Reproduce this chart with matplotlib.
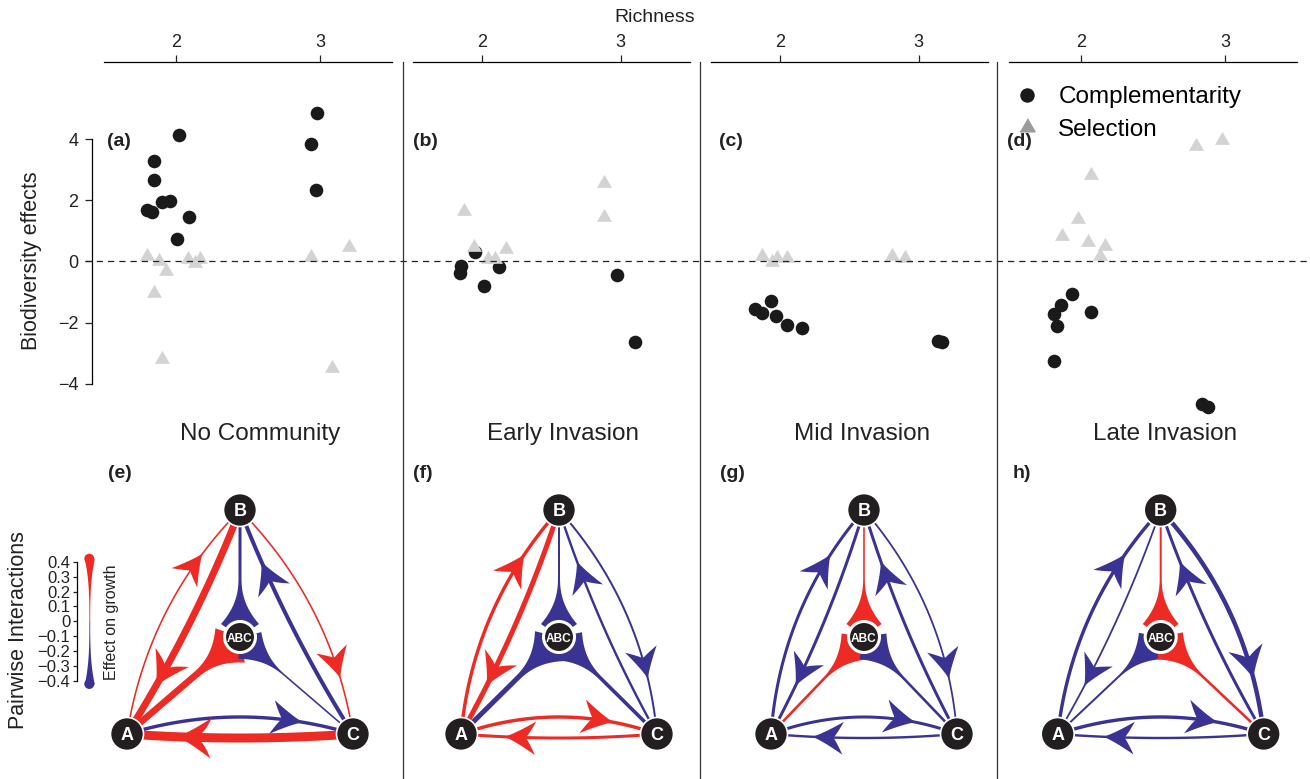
import numpy as np
import matplotlib.pyplot as plt
from matplotlib.lines import Line2D
from matplotlib.patches import Polygon, Circle, Ellipse
import matplotlib.transforms as mtransforms

plt.rcParams['font.family'] = ['Liberation Sans', 'DejaVu Sans']

# ---------------- data ----------------
stages = ["No Community", "Early Invasion", "Mid Invasion", "Late Invasion"]
top_tags = ["(a)", "(b)", "(c)", "(d)"]
net_tags = ["(e)", "(f)", "(g)", "h)"]

# complementarity effect per plot (richness jittered around 2 and 3)
comp_x = [
    [1.80, 1.83, 1.85, 1.85, 1.90, 1.96, 2.02, 2.01, 2.09, 2.98, 2.94, 2.97],
    [1.95, 1.85, 1.84, 2.01, 2.12, 2.97, 3.10],
    [1.93, 1.82, 1.87, 1.97, 2.05, 2.16, 3.14, 3.17],
    [1.94, 1.86, 1.81, 1.83, 2.07, 1.81, 2.84, 2.88],
]
comp_y = [
    [1.68, 1.61, 3.28, 2.66, 1.94, 1.99, 4.14, 0.75, 1.45, 4.84, 3.84, 2.35],
    [0.30, -0.14, -0.37, -0.79, -0.17, -0.44, -2.64],
    [-1.28, -1.55, -1.69, -1.78, -2.08, -2.18, -2.59, -2.64],
    [-1.07, -1.43, -1.72, -2.11, -1.65, -3.27, -4.67, -4.77],
]
# selection effect per plot
sel_x = [
    [1.80, 1.88, 1.93, 1.85, 1.90, 2.08, 2.13, 2.17, 2.94, 3.20, 3.08],
    [1.87, 1.94, 2.04, 2.09, 2.17, 2.88, 2.88],
    [1.87, 1.94, 1.98, 2.05, 2.81, 2.90],
    [2.80, 2.98, 2.07, 1.98, 1.87, 2.05, 2.17, 2.13],
]
sel_y = [
    [0.18, 0.00, -0.30, -1.04, -3.18, 0.07, -0.05, 0.09, 0.16, 0.48, -3.47],
    [1.65, 0.48, 0.07, 0.07, 0.40, 2.58, 1.44],
    [0.18, -0.02, 0.11, 0.12, 0.18, 0.10],
    [3.78, 3.97, 2.83, 1.39, 0.83, 0.63, 0.52, 0.18],
]

# pairwise interaction coefficients (source > target), one row per stage
pair_links = [("A", "B"), ("B", "A"), ("B", "C"), ("C", "B"), ("A", "C"), ("C", "A")]
pair_effects = [
    [0.03, 0.30, 0.03, -0.15, -0.12, 0.40],
    [0.12, 0.20, -0.05, -0.07, 0.12, 0.10],
    [-0.10, -0.10, -0.04, -0.10, -0.10, -0.07],
    [-0.12, -0.04, -0.17, -0.10, -0.12, -0.07],
]
# effect of each species on the three-species mix
abc_sources = ["B", "A", "C"]
abc_effects = [
    [-0.10, 0.28, -0.03],
    [-0.05, -0.20, -0.13],
    [0.03, 0.08, -0.08],
    [0.05, -0.05, 0.08],
]
cbar_ticks = [-0.4, -0.3, -0.2, -0.1, 0.0, 0.1, 0.2, 0.3, 0.4]

# ---------------- layout ----------------
W, H = 1310, 779
RED = '#ed2a24'
BLUE = '#3a3393'
NODE = '#231f20'

fig = plt.figure(figsize=(W / 100, H / 100), dpi=100)


def px_axes(x0, y0, x1, y1):
    return fig.add_axes([x0 / W, 1 - y1 / H, (x1 - x0) / W, (y1 - y0) / H])


top_left = [104, 413, 711, 1009]
top_right = [392, 690, 988, 1297]
tag_x = [107, 413, 719, 1007]
title_x = [260, 563, 862, 1165]
tri = [(-1, -0.577), (1, -0.577), (0, 1.155)]

axes_top = []
for i in range(4):
    ax = px_axes(top_left[i], 62, top_right[i], 460)
    ax.set_xlim(1.5, 3.5)
    ax.set_ylim(-6.49, 6.52)
    ax.patch.set_alpha(0)
    for s in ['right', 'bottom', 'left']:
        ax.spines[s].set_visible(False)
    ax.spines['top'].set_linewidth(0.9)
    ax.xaxis.tick_top()
    ax.set_xticks([2, 3])
    ax.tick_params(axis='x', direction='out', length=5, width=0.9, pad=3,
                   labelsize=13, colors='#222222')
    ax.set_yticks([])
    ax.scatter(comp_x[i], comp_y[i], s=96, marker='o', color='#1a1a1a',
               linewidths=0, zorder=3)
    ax.scatter(sel_x[i], sel_y[i], s=156, marker=tri, color='#d3d3d3',
               linewidths=0, zorder=4)
    fig.text(tag_x[i] / W, 1 - 141 / H, top_tags[i], fontsize=14,
             fontweight='bold', ha='left', va='center', color='#222222')
    fig.text(title_x[i] / W, 1 - 434 / H, stages[i], fontsize=17.5,
             ha='center', va='center', color='#222222')
    axes_top.append(ax)

ax0 = axes_top[0]
ax0.spines['left'].set_visible(True)
ax0.spines['left'].set_position(('outward', 8.6))
ax0.spines['left'].set_bounds(-4, 4)
ax0.spines['left'].set_linewidth(0.9)
ax0.set_yticks([-4, -2, 0, 2, 4])
ax0.tick_params(axis='y', direction='out', length=5, width=0.9, pad=5,
                labelsize=13, colors='#222222')

fig.text(655 / W, 1 - 18 / H, 'Richness', fontsize=14, ha='center', va='center',
         color='#222222')
fig.text(32 / W, 1 - 261 / H, 'Biodiversity effects', fontsize=15.5,
         rotation=90, ha='center', va='center', color='#222222')

# zero line running across all four panels
zero_tr = mtransforms.blended_transform_factory(fig.transFigure, ax0.transData)
fig.add_artist(Line2D([85 / W, 1.0], [0, 0], transform=zero_tr, color='#222222',
                      lw=0.9, linestyle=(0, (5, 4))))

# panel separators
for xs in [403, 700, 997]:
    fig.add_artist(Line2D([xs / W, xs / W], [0, 1 - 62 / H], transform=fig.transFigure,
                          color='#333333', lw=0.9))

handles = [Line2D([], [], ls='none', marker='o', color='#1a1a1a', markersize=9.4),
           Line2D([], [], ls='none', marker=tri, color='#9b9b9b', markersize=12.5)]
fig.legend(handles, ['Complementarity', 'Selection'], loc='upper left',
           bbox_to_anchor=(1015 / W, 1 - 86 / H), frameon=False, fontsize=17.5,
           handlelength=1.0, handletextpad=0.78, borderpad=0, borderaxespad=0,
           labelspacing=0.45)

# ---------------- interaction networks ----------------
net = fig.add_axes([0, 0, 1, 1])
net.set_xlim(0, W)
net.set_ylim(H, 0)
net.axis('off')
net.patch.set_alpha(0)

net_cx = [240, 559, 864, 1160.7]
net_hw = [113, 98, 93, 103]
y_top, y_base, y_mix = 510, 734, 637
# bulge of each link's curve (px, positive = away from the triangle centre)
link_bulge = [20, -6, 20, -6, -17, 4]


def width_px(v):
    return 1.0 + 20 * abs(v)


def bezier(p0, c, p1, t):
    t = np.asarray(t)[:, None]
    return (1 - t) ** 2 * p0 + 2 * (1 - t) * t * c + t ** 2 * p1


def head(tip, d, w, color):
    # swept arrowhead: slightly hollow flanks, scooped back
    n = np.array([-d[1], d[0]])
    L = 30 + 0.5 * w
    Wd = 15 + 0.6 * w
    s = np.linspace(0, 1, 16)
    side = np.column_stack([-L * s, Wd * s ** 1.2])
    b = np.linspace(0, 1, 12)[:, None]
    p_barb = np.array([-L, Wd])
    p_ctrl = np.array([-0.84 * L, 0.4 * Wd])
    p_join = np.array([-0.72 * L, w / 2])
    back = (1 - b) ** 2 * p_barb + 2 * (1 - b) * b * p_ctrl + b ** 2 * p_join
    upper = np.vstack([side, back])
    lower = upper[::-1] * np.array([1, -1])
    loc = np.vstack([upper, lower])
    pts = tip + loc[:, :1] * d + loc[:, 1:] * n
    net.add_patch(Polygon(pts, closed=True, fc=color, ec='none', zorder=3))


def trumpet(src, dst, w, color):
    vec = dst - src
    L = np.hypot(*vec)
    d = vec / L
    n = np.array([-d[1], d[0]])
    r_b, Lf = 13, 46
    Hm = 16 + w
    r = np.linspace(L, r_b, 80)
    u = np.clip((r_b + Lf - r) / Lf, 0, 1)
    h = w / 2 + (Hm - w / 2) * u ** 2.3
    c = dst - r[:, None] * d
    left = c + h[:, None] * n
    right = c - h[:, None] * n
    pts = np.vstack([left, [dst], right[::-1]])
    net.add_patch(Polygon(pts, closed=True, fc=color, ec='none', zorder=2))


for k in range(4):
    cx, hw = net_cx[k], net_hw[k]
    pos = {'A': np.array([cx - hw, y_base]), 'B': np.array([cx, y_top]),
           'C': np.array([cx + hw, y_base]), 'ABC': np.array([cx, y_mix])}
    centre = np.array([cx, (y_top + 2 * y_base) / 3])

    for (s, t), v, bulge in zip(pair_links, pair_effects[k], link_bulge):
        p0, p1 = pos[s], pos[t]
        mid = (p0 + p1) / 2
        dv = p1 - p0
        nrm = np.array([-dv[1], dv[0]]) / np.hypot(*dv)
        if np.dot(nrm, mid - centre) < 0:
            nrm = -nrm
        ctrl = mid + 2 * bulge * nrm
        col = RED if v > 0 else BLUE
        w = width_px(v)
        curve = bezier(p0, ctrl, p1, np.linspace(0, 1, 100))
        net.plot(curve[:, 0], curve[:, 1], color=col, lw=w * 0.72,
                 solid_capstyle='butt', zorder=2)
        tt = 0.78
        tip = bezier(p0, ctrl, p1, [tt])[0]
        tan = 2 * (1 - tt) * (ctrl - p0) + 2 * tt * (p1 - ctrl)
        head(tip, tan / np.hypot(*tan), w, col)

    for s, v in zip(abc_sources, abc_effects[k]):
        trumpet(pos[s], pos['ABC'], width_px(v), RED if v > 0 else BLUE)

    for name in ['A', 'B', 'C']:
        net.add_patch(Circle(pos[name], 16.5, fc=NODE, ec='white', lw=1.2, zorder=5))
        net.text(*pos[name], name, color='white', fontweight='bold', fontsize=13,
                 ha='center', va='center_baseline', zorder=6)
    net.add_patch(Circle(pos['ABC'], 15.5, fc=NODE, ec='white', lw=2.2, zorder=5))
    net.text(*pos['ABC'], 'ABC', color='white', fontweight='bold', fontsize=8.6,
             ha='center', va='center_baseline', zorder=6)

for xt, tag in zip([108, 413, 720, 1013], net_tags):
    fig.text(xt / W, 1 - 473 / H, tag, fontsize=14, fontweight='bold',
             ha='left', va='center', color='#222222')

# ---------------- colour key ----------------
cb = px_axes(76.7, 561.7, 106.7, 681)
cb.set_xlim(0, 30)
cb.set_ylim(-0.4, 0.4)
cb.patch.set_alpha(0)
for s in ['right', 'top', 'bottom']:
    cb.spines[s].set_visible(False)
cb.spines['left'].set_linewidth(0.9)
cb.set_xticks([])
cb.set_yticks(cbar_ticks)
cb.set_yticklabels(['0' if t == 0 else f'{t:.1f}'.replace('-', '\u2212') for t in cbar_ticks])
cb.tick_params(axis='y', direction='out', length=3, width=0.9, pad=1.5,
               labelsize=12, colors='#222222')
vv = np.linspace(0, 0.42, 80)
half = 0.4 + 4.6 * (vv / 0.42) ** 3
cb.fill_betweenx(vv, 12.6 - half, 12.6 + half, color=RED, lw=0, clip_on=False)
cb.fill_betweenx(-vv, 12.6 - half, 12.6 + half, color=BLUE, lw=0, clip_on=False)
cb.add_patch(Ellipse((12.6, 0.42), 10, 10 * 0.8 / 119.3, fc=RED, ec='none', clip_on=False))
cb.add_patch(Ellipse((12.6, -0.42), 10, 10 * 0.8 / 119.3, fc=BLUE, ec='none', clip_on=False))

fig.text(111.7 / W, 1 - 622 / H, 'Effect on growth', fontsize=11.5, rotation=90,
         ha='center', va='center', color='#222222')
fig.text(19 / W, 1 - 630 / H, 'Pairwise Interactions', fontsize=15.5, rotation=90,
         ha='center', va='center', color='#222222')

fig.savefig('out.png', dpi=100)
